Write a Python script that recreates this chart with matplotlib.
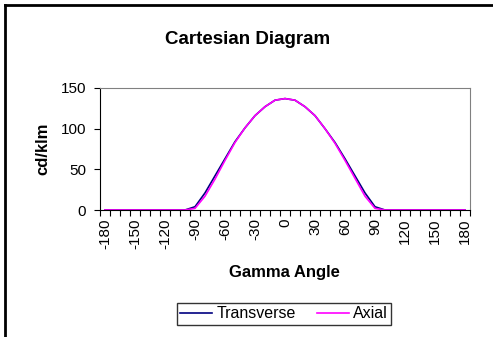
import matplotlib
matplotlib.use("Agg")
import matplotlib.pyplot as plt
from matplotlib.lines import Line2D

angles = list(range(-180, 181, 10))
transverse = [0, 0, 0, 0, 0, 0, 0, 0, 0,
              4, 21, 42, 63, 84, 101, 116, 127, 135,
              137,
              135, 127, 116, 100, 83, 63, 42, 21, 4,
              0, 0, 0, 0, 0, 0, 0, 0, 0]
axial = [0, 0, 0, 0, 0, 0, 0, 0, 0,
         2, 17, 38, 61, 83, 101, 116, 127, 135,
         137,
         135, 127, 116, 100, 82, 61, 39, 17, 2,
         0, 0, 0, 0, 0, 0, 0, 0, 0]
label_angles = list(range(-180, 181, 30))

plt.rcParams['font.family'] = ['Liberation Sans', 'DejaVu Sans']

W, H = 493, 337
fig = plt.figure(figsize=(W / 100, H / 100), dpi=100)
ax = fig.add_axes([100 / W, 1 - 210 / H, 370 / W, 122 / H])

x = list(range(len(angles)))
ax.plot(x, transverse, color='#000080', lw=1.2, label='Transverse')
ax.plot(x, axial, color='#FF00FF', lw=1.2, label='Axial')

ax.set_xlim(-0.5, len(angles) - 0.5)
ax.set_ylim(0, 150)
ax.set_yticks([0, 50, 100, 150])
ax.tick_params(axis='y', labelsize=11, length=4, direction='out', pad=6)

# boundaries get tick marks, category centres get labels
ax.set_xticks([i - 0.5 for i in range(len(angles) + 1)])
ax.set_xticklabels([])
ax.tick_params(axis='x', which='major', length=4, direction='out')
ax.set_xticks([angles.index(a) for a in label_angles], minor=True)
ax.set_xticklabels([str(a) for a in label_angles], minor=True, rotation=90)
ax.tick_params(axis='x', which='minor', length=0, labelsize=11, pad=6)

for s in ['top', 'right']:
    ax.spines[s].set_color('#808080')
for s in ['left', 'bottom']:
    ax.spines[s].set_color('black')

fig.text(248 / W, 1 - 40 / H, 'Cartesian Diagram', fontsize=13.5,
         fontweight='bold', ha='center', va='center')
ax.set_ylabel('cd/klm', fontsize=12, fontweight='bold', va='center')
ax.yaxis.set_label_coords((43 - 100) / 370, 0.5)
ax.set_xlabel('Gamma Angle', fontsize=12, fontweight='bold', va='center')
ax.xaxis.set_label_coords((284 - 100) / 370, (210 - 272) / 122)

leg = ax.legend(loc='center', bbox_to_anchor=(284 / W, 1 - 314 / H),
                bbox_transform=fig.transFigure, ncol=2, frameon=True,
                fancybox=False, edgecolor='black', fontsize=11.5,
                handlelength=2.0, handletextpad=0.3, columnspacing=1.3,
                borderpad=0.2)
leg.get_frame().set_linewidth(1.0)

# outer chart border
fig.add_artist(Line2D([5 / W, 5 / W], [0, 1 - 5 / H], color='black', lw=2))
fig.add_artist(Line2D([5 / W, 1], [1 - 5 / H, 1 - 5 / H], color='black', lw=2))

fig.savefig('out.png', dpi=100)
